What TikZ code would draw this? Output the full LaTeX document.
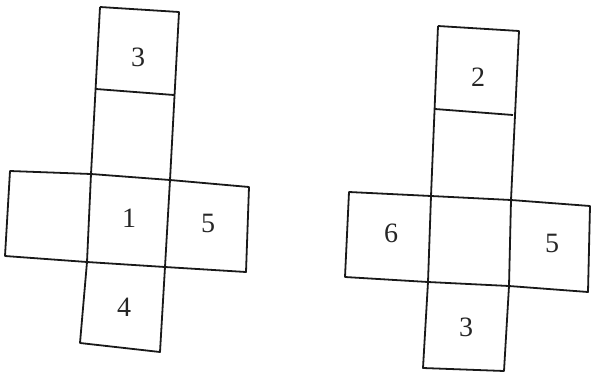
\documentclass[tikz,border=0pt]{standalone}
\usepackage{fontspec}
\setmainfont{Liberation Serif}
\begin{document}
\begin{tikzpicture}[x=1pt,y=-1pt,
  edge/.style={draw=black!90, line width=1.8pt, line join=round},
  num/.style={font=\fontsize{28}{32}\selectfont, text=black!85, inner sep=0pt}]
\useasboundingbox (0,0) rectangle (591,372);
% ---- left net ----
\coordinate (la1) at (100,7);   \coordinate (la2) at (179,12);
\coordinate (lb1) at (96,89);   \coordinate (lb2) at (174,95);
\coordinate (lc1) at (91,174);  \coordinate (lc2) at (170,180);
\coordinate (ll1) at (10,171);  \coordinate (ll2) at (5,256);
\coordinate (lr1) at (249,187); \coordinate (lr2) at (246,272);
\coordinate (ld1) at (87,262);  \coordinate (ld2) at (165,267);
\coordinate (le1) at (80,343);  \coordinate (le2) at (160,352);
\draw[edge] (la1) -- (la2) -- (lc2) (ld2) -- (le2) -- (le1) -- (ld1) (lc1) -- (la1);
\draw[edge] (lb1) -- (lb2);
\draw[edge] (ll1) -- (lc1) -- (lc2) -- (lr1) -- (lr2) -- (ld2) -- (ld1) -- (ll2) -- cycle;
\draw[edge] (lc1) -- (ld1) (lc2) -- (ld2);
\node[num] (l3) at (138,57) {3};
\node[num] (l1) at (129,218) {1};
\node[num] (l5) at (208,223) {5};
\node[num] (l4) at (124,307) {4};
% ---- right net ----
\coordinate (ra1) at (438,26);  \coordinate (ra2) at (519,31);
\coordinate (rb1) at (435,109); \coordinate (rb2) at (513,115);
\coordinate (rc1) at (431,196); \coordinate (rc2) at (511,200);
\coordinate (rl1) at (349,192); \coordinate (rl2) at (345,277);
\coordinate (rr1) at (590,206); \coordinate (rr2) at (588,292);
\coordinate (rd1) at (428,282); \coordinate (rd2) at (509,286);
\coordinate (re1) at (423,368); \coordinate (re2) at (504,371);
\draw[edge] (ra1) -- (ra2) -- (rc2) (rd2) -- (re2) -- (re1) -- (rd1) (rc1) -- (ra1);
\draw[edge] (rb1) -- (rb2);
\draw[edge] (rl1) -- (rc1) -- (rc2) -- (rr1) -- (rr2) -- (rd2) -- (rd1) -- (rl2) -- cycle;
\draw[edge] (rc1) -- (rd1) (rc2) -- (rd2);
\node[num] (r2) at (478,77) {2};
\node[num] (r6) at (391,233) {6};
\node[num] (r5) at (552,243) {5};
\node[num] (r3) at (466,327) {3};
\end{tikzpicture}
\end{document}
